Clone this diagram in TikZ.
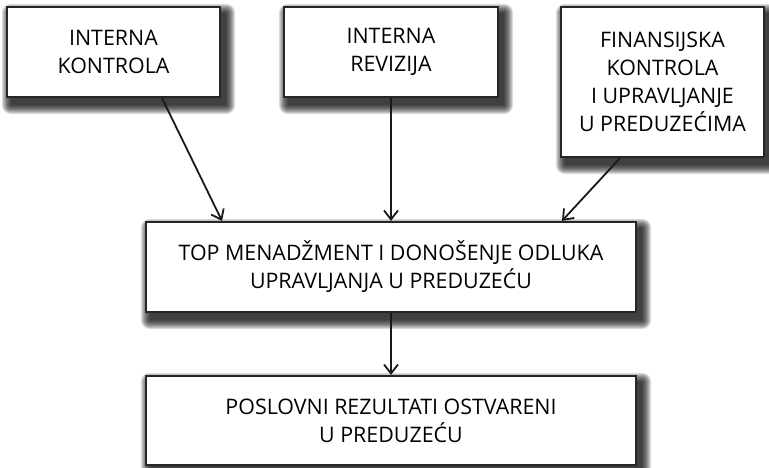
\documentclass[tikz,border=0pt]{standalone}
\usepackage{fontspec}
\setmainfont{Open Sans}
\usetikzlibrary{arrows.meta,backgrounds}
\newcommand{\boxshadow}[1]{%
  \begin{scope}[on background layer]
  \foreach \r in {0,1,...,9}{
    \fill[black,opacity=0.13,rounded corners=\r pt]
      ([shift={(5-\r,7-\r)}]#1.north west) rectangle ([shift={(5+\r,7+\r)}]#1.south east);
  }
  \end{scope}}
\begin{document}
\begin{tikzpicture}[x=1pt,y=-1pt,
  box/.style={draw=black!85,line width=2.2pt,fill=white,align=center,inner sep=0pt,
    font=\fontsize{21.4}{28}\selectfont},
  arr/.style={line width=1.8pt,draw=black!90,-{Straight Barb[length=9pt,width=14pt,line width=1.8pt]}}]
\useasboundingbox (0,0) rectangle (769,467);
\node[box,minimum width=213pt,minimum height=90pt] (b1) at (113.5,52) {INTERNA\\KONTROLA};
\node[box,minimum width=214pt,minimum height=90pt] (b2) at (391,52) {INTERNA\\REVIZIJA};
\node[box,minimum width=203pt,minimum height=150pt] (b3) at (662.5,82) {FINANSIJSKA\\KONTROLA\\I UPRAVLJANJE\\U PREDUZEĆIMA};
\node[box,minimum width=490pt,minimum height=90pt] (mid) at (391,267) {TOP MENADŽMENT I DONOŠENJE ODLUKA\\UPRAVLJANJA U PREDUZEĆU};
\node[box,minimum width=490pt,minimum height=89pt] (bot) at (391,420.5) {POSLOVNI REZULTATI OSTVARENI\\U PREDUZEĆU};
\boxshadow{b1}\boxshadow{b2}\boxshadow{b3}\boxshadow{mid}\boxshadow{bot}
\draw[arr] ([xshift=48.5pt]b1.south) -- ([xshift=-169pt]mid.north);
\draw[arr] (b2.south) -- (mid.north);
\draw[arr] ([xshift=-42.5pt]b3.south) -- ([xshift=171pt]mid.north);
\draw[arr] (mid.south) -- (bot.north);
\end{tikzpicture}
\end{document}
